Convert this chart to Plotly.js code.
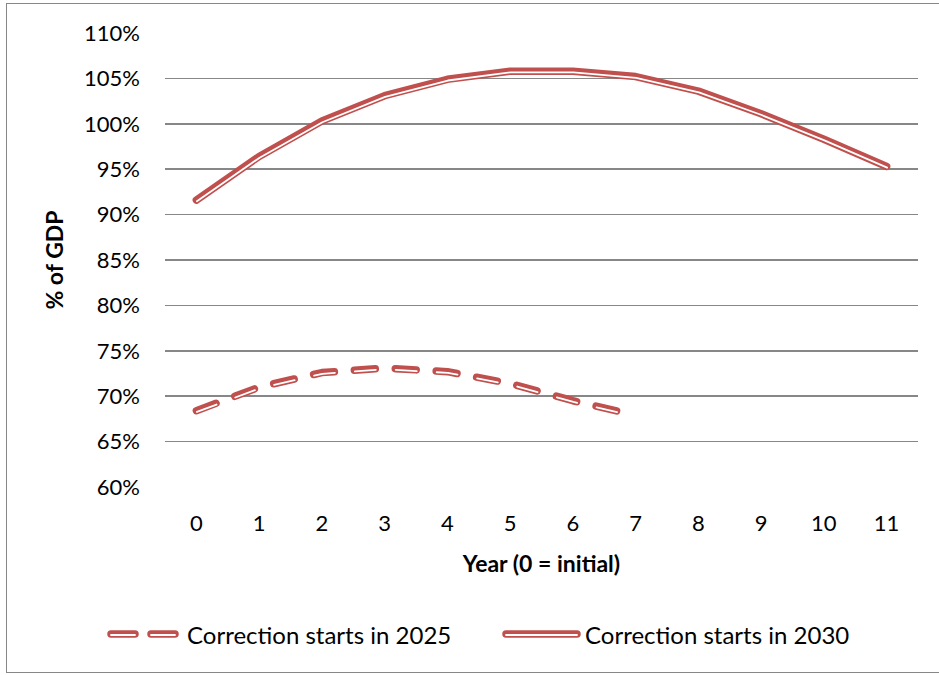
<!DOCTYPE html>
<html><head><meta charset="utf-8">
<script src="https://cdn.plot.ly/plotly-3.0.1.min.js"></script>
<style>
html,body{margin:0;padding:0;background:#fff;}
#wrap{position:relative;width:939px;height:675px;overflow:hidden;}
#chart{width:939px;height:675px;}
#frame{position:absolute;left:6px;top:3px;width:980px;height:670px;border:1.5px solid #878787;pointer-events:none;box-sizing:border-box;}
.scatterlayer .js-line, .shapelayer path {stroke-linecap:round; stroke-linejoin:round;}
.scatterlayer .trace:nth-child(2) .js-line, .scatterlayer .trace:nth-child(4) .js-line {transform:translate(0.5px,1.2px);}
</style></head>
<body>
<div id="wrap"><div id="chart"></div><div id="frame"></div></div>
<script>
const years = [0,1,2,3,4,5,6,7,8,9,10,11];
const start2025 = [68.4, 71.0, 72.6, 73.1, 72.7, 71.4, 69.5, 67.9];
const start2030 = [91.6, 96.4, 100.3, 103.1, 104.9, 105.8, 105.8, 105.2, 103.6, 101.1, 98.3, 95.3];
const seriesNames = ["Correction starts in 2025", "Correction starts in 2030"];
const yTicks = [60,65,70,75,80,85,90,95,100,105,110];

const RED = "#C0504D";
const FONT = "Lato, 'Open Sans', sans-serif";
const dashPat = "21px,20px";

function pair(x, y, dash, name){
  return [
    {x:x, y:y, type:"scatter", mode:"lines", name:name, showlegend:false,
     line:{color:RED, width:7.5, dash:dash}, hoverinfo:"skip"},
    {x:x, y:y, type:"scatter", mode:"lines", name:name, showlegend:false,
     line:{color:"#ffffff", width:1.8, dash:dash}, hoverinfo:"skip"}
  ];
}
const traces = [
  ...pair(years.slice(0, start2025.length), start2025, dashPat, seriesNames[0]),
  ...pair(years, start2030, "solid", seriesNames[1])
];

// manual legend (paper coordinates from pixel positions)
const L = 165, W = 753, T = 33, H = 454;
const px = v => (v - L) / W;
const py = v => 1 - (v - T) / H;
const legY = py(634);
function legLine(x0, x1){
  return [
    {type:"line", xref:"paper", yref:"paper", x0:px(x0), x1:px(x1), y0:legY, y1:legY, line:{color:RED, width:7.5}},
    {type:"line", xref:"paper", yref:"paper", x0:px(x0), x1:px(x1), y0:py(635), y1:py(635), line:{color:"#ffffff", width:1.8}}
  ];
}
const shapes = [
  ...legLine(111, 135), ...legLine(151, 175),
  ...legLine(506, 577)
];
const annotations = [
  {xref:"paper", yref:"paper", x:px(185), y:legY, xanchor:"left", yanchor:"middle", showarrow:false,
   text:seriesNames[0], font:{family:FONT, size:24, color:"#000"}},
  {xref:"paper", yref:"paper", x:px(583), y:legY, xanchor:"left", yanchor:"middle", showarrow:false,
   text:seriesNames[1], font:{family:FONT, size:24, color:"#000"}}
];

const layout = {
  width:939, height:675,
  margin:{l:165, r:21, t:33, b:188},
  paper_bgcolor:"#fff", plot_bgcolor:"#fff",
  showlegend:false,
  font:{family:FONT, color:"#000"},
  xaxis:{
    range:[-0.5, 11.5], tickmode:"array", tickvals:years, ticktext:years.map(String),
    showgrid:false, zeroline:false, showline:false, ticks:"",
    ticklabelstandoff:21,
    tickfont:{family:FONT, size:22, color:"#000"},
    title:{text:"<b>Year (0 = initial)</b>", font:{family:FONT, size:23, color:"#000"}, standoff:20}
  },
  yaxis:{
    range:[60, 110], tickmode:"array", tickvals:yTicks, ticktext:yTicks.map(v => v + "%"),
    showgrid:true, gridcolor:"#878787", gridwidth:1.5, zeroline:false, showline:false, ticks:"",
    ticklabelstandoff:24,
    tickfont:{family:FONT, size:22, color:"#000"},
    title:{text:"<b>% of GDP</b>", font:{family:FONT, size:23, color:"#000"}, standoff:14}
  },
  shapes:shapes,
  annotations:annotations
};
Plotly.newPlot("chart", traces, layout, {staticPlot:true, displayModeBar:false});
</script>
</body></html>
